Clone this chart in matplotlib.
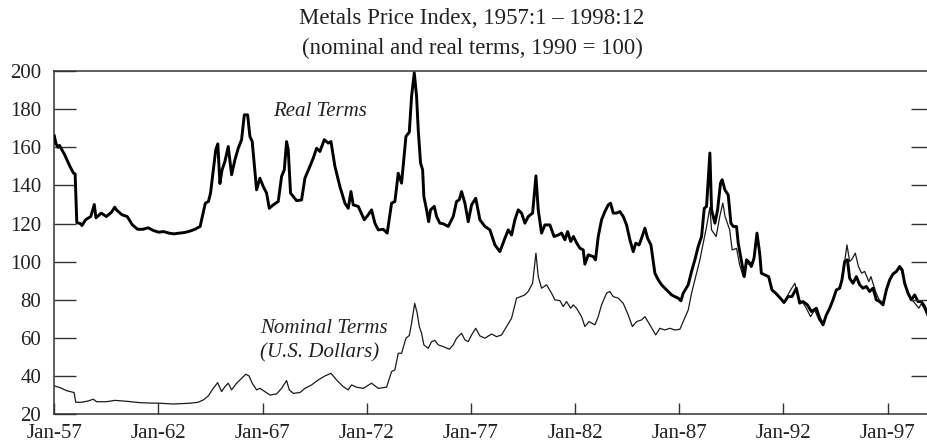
"""
Metals Price Index 1957-1998, nominal and real terms (1990 = 100).
"""
import matplotlib
matplotlib.use('Agg')
import matplotlib.pyplot as plt

# ── Datos (año decimal, índice) ──────────────────────────────────────────────
real_t = [
    1957.00, 1957.08, 1957.17, 1957.25, 1957.50, 1957.75, 1957.92, 1958.00, 1958.08, 1958.25,
    1958.33, 1958.50, 1958.75, 1958.92, 1959.00, 1959.25, 1959.50, 1959.75, 1959.90, 1960.00,
    1960.25, 1960.50, 1960.75, 1961.00, 1961.25, 1961.50, 1961.75, 1962.00, 1962.25, 1962.50,
    1962.75, 1963.00, 1963.25, 1963.50, 1963.75, 1964.00, 1964.25, 1964.40, 1964.50, 1964.75,
    1964.85, 1964.95, 1965.05, 1965.19, 1965.35, 1965.51, 1965.67, 1965.83, 1965.99, 1966.12,
    1966.28, 1966.39, 1966.50, 1966.71, 1966.87, 1967.03, 1967.19, 1967.32, 1967.51, 1967.75,
    1967.91, 1968.04, 1968.15, 1968.23, 1968.34, 1968.47, 1968.63, 1968.87, 1969.03, 1969.27,
    1969.43, 1969.59, 1969.75, 1969.96, 1970.15, 1970.28, 1970.47, 1970.71, 1970.95, 1971.11,
    1971.24, 1971.35, 1971.59, 1971.88, 1972.07, 1972.23, 1972.39, 1972.55, 1972.79, 1972.98,
    1973.19, 1973.35, 1973.51, 1973.67, 1973.88, 1974.04, 1974.15, 1974.28, 1974.39, 1974.47,
    1974.58, 1974.68, 1974.74, 1974.87, 1974.97, 1975.06, 1975.24, 1975.35, 1975.51, 1975.67,
    1975.91, 1976.15, 1976.31, 1976.44, 1976.55, 1976.71, 1976.87, 1977.03, 1977.23, 1977.43,
    1977.67, 1977.91, 1978.15, 1978.39, 1978.63, 1978.79, 1978.95, 1979.11, 1979.27, 1979.43,
    1979.59, 1979.75, 1979.96, 1980.12, 1980.23, 1980.39, 1980.55, 1980.79, 1980.99, 1981.19,
    1981.35, 1981.51, 1981.64, 1981.79, 1981.92, 1982.08, 1982.23, 1982.39, 1982.47, 1982.63,
    1982.87, 1982.98, 1983.11, 1983.27, 1983.43, 1983.59, 1983.70, 1983.83, 1983.99, 1984.15,
    1984.31, 1984.47, 1984.63, 1984.79, 1984.91, 1985.07, 1985.19, 1985.35, 1985.48, 1985.64,
    1985.83, 1985.99, 1986.15, 1986.31, 1986.47, 1986.63, 1986.79, 1986.95, 1987.08, 1987.19,
    1987.43, 1987.59, 1987.75, 1987.91, 1988.07, 1988.20, 1988.31, 1988.39, 1988.47, 1988.55,
    1988.71, 1988.84, 1988.98, 1989.06, 1989.19, 1989.35, 1989.48, 1989.59, 1989.75, 1989.83,
    1989.99, 1990.12, 1990.23, 1990.39, 1990.46, 1990.59, 1990.73, 1990.86, 1990.94, 1991.10,
    1991.29, 1991.45, 1991.63, 1991.85, 1992.03, 1992.22, 1992.41, 1992.62, 1992.78, 1992.94,
    1993.15, 1993.34, 1993.58, 1993.74, 1993.90, 1994.06, 1994.22, 1994.38, 1994.54, 1994.70,
    1994.81, 1994.94, 1995.07, 1995.18, 1995.34, 1995.50, 1995.66, 1995.82, 1995.98, 1996.14,
    1996.30, 1996.46, 1996.62, 1996.78, 1996.94, 1997.10, 1997.26, 1997.42, 1997.58, 1997.70,
    1997.82, 1997.98, 1998.14, 1998.30, 1998.46, 1998.62, 1998.78, 1998.94,
]
real_v = [
    166.0, 162.0, 160.0, 161.0, 156.0, 150.0, 146.5, 146.0, 120.5, 120.0,
    119.0, 122.0, 123.7, 130.0, 123.0, 125.5, 123.7, 126.0, 128.6, 127.0,
    124.6, 123.7, 119.3, 117.0, 117.0, 117.8, 116.4, 115.5, 115.8, 115.0,
    114.6, 115.0, 115.3, 116.0, 117.0, 118.5, 130.7, 131.6, 136.0, 158.7,
    161.8, 141.0, 148.0, 152.6, 160.4, 145.6, 153.4, 159.5, 164.0, 177.0,
    177.0, 165.7, 163.0, 137.7, 143.8, 139.4, 136.0, 128.0, 129.8, 131.6,
    144.7, 148.2, 163.0, 158.7, 136.0, 134.2, 132.0, 132.4, 143.8, 150.0,
    154.3, 159.5, 157.8, 164.0, 162.2, 163.0, 150.0, 139.4, 130.7, 128.0,
    136.8, 129.8, 129.0, 122.0, 124.6, 127.2, 120.2, 116.7, 117.0, 115.0,
    130.7, 131.6, 146.4, 141.2, 165.7, 167.9, 186.7, 199.0, 186.7, 169.2,
    151.8, 148.2, 134.2, 127.2, 121.0, 127.2, 129.0, 123.7, 120.2, 119.9,
    118.5, 123.7, 131.6, 132.5, 136.8, 130.7, 121.0, 129.8, 133.3, 122.0,
    118.5, 116.7, 108.8, 105.3, 112.3, 116.7, 114.0, 122.0, 127.2, 125.5,
    120.2, 123.7, 125.5, 145.0, 127.2, 115.0, 119.3, 119.3, 113.2, 114.0,
    115.0, 111.5, 115.8, 110.6, 113.2, 109.7, 107.1, 106.2, 98.7, 103.6,
    102.7, 101.0, 113.2, 122.0, 126.3, 129.8, 130.7, 125.5, 125.5, 126.3,
    123.7, 119.3, 111.5, 105.3, 109.7, 108.8, 112.3, 117.6, 112.3, 108.8,
    94.0, 90.5, 87.9, 86.1, 84.4, 82.6, 81.7, 80.9, 79.5, 83.5,
    87.9, 94.9, 101.0, 108.0, 113.2, 128.0, 129.0, 143.0, 157.0, 127.2,
    120.2, 127.2, 141.2, 143.0, 137.7, 135.0, 120.2, 118.5, 118.5, 109.7,
    100.1, 92.2, 101.0, 99.2, 97.5, 101.9, 115.0, 104.5, 94.0, 93.1,
    92.2, 85.2, 83.5, 80.9, 78.6, 81.7, 81.7, 86.1, 78.3, 79.1,
    77.4, 73.9, 75.6, 70.4, 66.9, 72.1, 75.6, 80.0, 85.2, 86.1,
    90.5, 100.1, 101.0, 91.3, 88.7, 92.2, 87.9, 86.1, 87.0, 84.4,
    86.1, 80.0, 79.1, 77.4, 85.2, 90.5, 93.6, 94.9, 97.5, 95.7,
    88.7, 83.5, 80.0, 82.6, 79.1, 79.1, 76.5, 72.1,
]

nominal_t = [
    1957.00, 1957.27, 1957.59, 1957.95, 1958.03, 1958.31, 1958.63, 1958.87, 1959.03, 1959.50,
    1959.91, 1960.50, 1961.11, 1961.60, 1962.07, 1962.70, 1963.50, 1963.90, 1964.15, 1964.39,
    1964.63, 1964.84, 1965.03, 1965.19, 1965.35, 1965.51, 1965.75, 1965.99, 1966.19, 1966.35,
    1966.50, 1966.71, 1966.87, 1967.11, 1967.35, 1967.67, 1967.91, 1968.15, 1968.28, 1968.47,
    1968.79, 1969.03, 1969.35, 1969.67, 1969.99, 1970.28, 1970.55, 1970.87, 1971.11, 1971.27,
    1971.51, 1971.83, 1972.23, 1972.55, 1972.95, 1973.19, 1973.35, 1973.51, 1973.67, 1973.88,
    1974.04, 1974.15, 1974.30, 1974.42, 1974.52, 1974.63, 1974.74, 1974.95, 1975.11, 1975.27,
    1975.43, 1975.67, 1975.96, 1976.15, 1976.31, 1976.55, 1976.71, 1976.87, 1977.03, 1977.23,
    1977.43, 1977.67, 1977.99, 1978.23, 1978.47, 1978.71, 1978.95, 1979.19, 1979.39, 1979.59,
    1979.75, 1979.96, 1980.12, 1980.23, 1980.39, 1980.63, 1980.87, 1981.03, 1981.27, 1981.43,
    1981.59, 1981.79, 1981.91, 1982.07, 1982.31, 1982.47, 1982.67, 1982.95, 1983.11, 1983.27,
    1983.51, 1983.67, 1983.83, 1984.07, 1984.31, 1984.55, 1984.75, 1984.95, 1985.19, 1985.35,
    1985.59, 1985.87, 1986.07, 1986.31, 1986.55, 1986.79, 1987.03, 1987.19, 1987.43, 1987.59,
    1987.79, 1987.99, 1988.15, 1988.31, 1988.47, 1988.55, 1988.77, 1988.95, 1989.09, 1989.20,
    1989.42, 1989.54, 1989.75, 1989.90, 1990.07, 1990.23, 1990.39, 1990.55, 1990.73, 1990.86,
    1990.94, 1991.10, 1991.29, 1991.45, 1991.63, 1991.85, 1992.03, 1992.30, 1992.55, 1992.75,
    1992.94, 1993.10, 1993.30, 1993.50, 1993.70, 1993.90, 1994.06, 1994.22, 1994.38, 1994.54,
    1994.70, 1994.81, 1994.94, 1995.05, 1995.18, 1995.30, 1995.45, 1995.60, 1995.75, 1995.90,
    1996.10, 1996.20, 1996.45, 1996.60, 1996.80, 1997.00, 1997.20, 1997.42, 1997.58, 1997.70,
    1997.82, 1997.98, 1998.14, 1998.30, 1998.50, 1998.62, 1998.78, 1998.94,
]
nominal_v = [
    34.9, 34.0, 32.4, 31.4, 26.3, 26.3, 27.0, 27.9, 26.6, 26.6,
    27.3, 26.8, 26.1, 25.9, 25.8, 25.4, 25.8, 26.3, 27.5, 29.6,
    33.6, 36.6, 31.9, 34.5, 36.3, 32.8, 36.3, 38.9, 41.0, 40.1,
    36.3, 32.8, 33.6, 31.9, 30.1, 30.7, 33.6, 37.7, 32.8, 31.0,
    31.4, 33.6, 35.4, 38.0, 40.1, 41.5, 38.0, 34.5, 32.8, 35.4,
    34.2, 33.6, 36.3, 33.6, 34.2, 42.4, 43.3, 52.0, 52.0, 59.9,
    61.3, 67.7, 78.2, 73.0, 66.0, 62.5, 56.4, 54.6, 58.1, 58.7,
    56.4, 55.5, 54.1, 56.4, 59.9, 62.5, 59.0, 58.1, 61.6, 65.1,
    61.1, 59.9, 62.1, 60.7, 61.6, 66.0, 70.4, 80.9, 81.7, 82.6,
    84.4, 88.7, 104.5, 92.2, 86.1, 87.9, 83.5, 80.0, 79.6, 76.5,
    79.1, 75.6, 77.4, 75.6, 71.2, 66.0, 68.6, 66.9, 71.2, 77.4,
    83.5, 84.4, 81.7, 80.9, 78.2, 72.1, 66.0, 68.6, 69.5, 71.2,
    66.9, 61.6, 65.1, 64.2, 65.1, 64.2, 64.6, 68.6, 74.7, 83.5,
    92.2, 101.0, 109.7, 118.4, 128.5, 116.7, 113.2, 124.0, 130.7, 123.7,
    116.7, 106.2, 107.0, 98.3, 92.2, 99.2, 98.3, 100.0, 114.0, 104.0,
    94.0, 93.0, 92.0, 85.0, 83.5, 81.0, 78.6, 84.4, 88.7, 80.0,
    78.5, 75.6, 71.2, 74.7, 69.5, 66.9, 72.1, 75.6, 80.0, 85.2,
    86.1, 90.5, 100.1, 108.8, 100.1, 101.5, 104.5, 97.5, 94.0, 94.9,
    89.6, 92.2, 83.5, 80.0, 78.3, 87.0, 92.5, 94.5, 96.5, 95.0,
    88.0, 84.0, 80.5, 78.3, 75.6, 78.0, 75.0, 71.0,
]

tick_years  = [1957, 1962, 1967, 1972, 1977, 1982, 1987, 1992, 1997]
tick_labels = ["Jan-57", "Jan-62", "Jan-67", "Jan-72", "Jan-77",
               "Jan-82", "Jan-87", "Jan-92", "Jan-97"]
y_ticks = list(range(20, 201, 20))

# ── Figura ───────────────────────────────────────────────────────────────────
W, H = 928, 448
plt.rcParams['font.family'] = ['Liberation Serif', 'DejaVu Serif']
INK = "#222222"

fig = plt.figure(figsize=(W / 100, H / 100), dpi=100)
ax = fig.add_axes([54.3 / W, 1 - 414.3 / H, (W - 54.3) / W, 343.3 / H])

ax.plot(nominal_t, nominal_v, color="#1a1a1a", lw=0.9, zorder=2)
ax.plot(real_t, real_v, color="black", lw=2.1, zorder=3,
        solid_joinstyle="round")

ax.set_xlim(1957.0, 1998.94)
ax.set_ylim(20, 200)

ax.set_xticks(tick_years)
ax.set_xticklabels(tick_labels)
ax.set_yticks(y_ticks)

for s in ["top", "left", "bottom"]:
    ax.spines[s].set_linewidth(1.1)
    ax.spines[s].set_color("#333333")
ax.spines["right"].set_visible(False)

ax.tick_params(axis="y", direction="in", length=15.8, width=1.0,
               color="#333333", labelsize=15, labelcolor=INK, pad=9.5)
ax.tick_params(axis="x", direction="in", length=8, width=1.0,
               color="#333333", labelsize=15, labelcolor=INK, pad=7)

# ticks interiores del lado derecho (más cortos, sin etiqueta)
rt = ax.twinx()
rt.set_ylim(20, 200)
rt.set_yticks(list(range(40, 200, 20)))
rt.tick_params(axis="y", direction="in", length=12.5, width=1.0,
               color="#333333", labelright=False)
for s in rt.spines.values():
    s.set_visible(False)

# ── Título ───────────────────────────────────────────────────────────────────
fig.text(472 / W, 1 - 19 / H, "Metals Price Index, 1957:1 \u2013 1998:12",
         ha="center", va="center", fontsize=16.5, color=INK)
fig.text(472 / W, 1 - 48 / H, "(nominal and real terms, 1990 = 100)",
         ha="center", va="center", fontsize=16.5, color=INK)

# ── Etiquetas de series ──────────────────────────────────────────────────────
ax.text(1967.48, 178.8, "Real Terms", ha="left", va="center",
        fontsize=15, fontstyle="italic", color=INK)
ax.text(1966.88, 65.1, "Nominal Terms", ha="left", va="center",
        fontsize=15, fontstyle="italic", color=INK)
ax.text(1966.88, 52.3, "(U.S. Dollars)", ha="left", va="center",
        fontsize=15, fontstyle="italic", color=INK)

fig.savefig("out.png", dpi=100, facecolor="white")
plt.close(fig)
